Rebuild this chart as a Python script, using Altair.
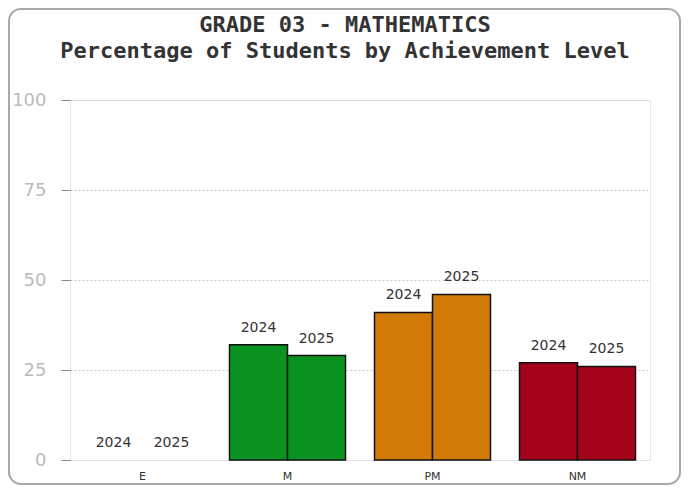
import altair as alt
import pandas as pd

levels = ["E", "M", "PM", "NM"]
years = ["2024", "2025"]
pct_2024 = [0, 32, 41, 27]
pct_2025 = [0, 29, 46, 26]
level_colors = ["#1f5fa8", "#0b9321", "#d27a05", "#a3041b"]
y_ticks = [0, 25, 50, 75, 100]
title_lines = ["GRADE 03 - MATHEMATICS", "Percentage of Students by Achievement Level"]

rows = []
for i, lv in enumerate(levels):
    rows.append({"level": lv, "year": years[0], "pct": pct_2024[i]})
    rows.append({"level": lv, "year": years[1], "pct": pct_2025[i]})
df = pd.DataFrame(rows)

x_enc = alt.X(
    "level:N",
    sort=levels,
    scale=alt.Scale(domain=levels, paddingInner=0.2, paddingOuter=0.1),
    axis=alt.Axis(
        title=None, labelAngle=0, ticks=False, domainColor="#e2e2e2",
        labelPadding=10, labelFontSize=11, labelColor="#333",
        labelFont="DejaVu Sans", grid=False,
    ),
)
xo_enc = alt.XOffset("year:N", scale=alt.Scale(domain=years, paddingInner=0, paddingOuter=0))
y_enc = alt.Y(
    "pct:Q",
    scale=alt.Scale(domain=[0, 100], nice=False),
    axis=alt.Axis(
        title=None, values=y_ticks, domain=False, tickSize=9, tickColor="#888",
        labelPadding=15, labelFontSize=18, labelColor="#bbbbbb",
        labelFont="DejaVu Sans", gridColor="#c4c4c4", gridDash=[2, 2],
    ),
)

border = alt.Chart(alt.Data(values=[{}])).mark_rect(
    fill="transparent", stroke="#a8a8a8", strokeWidth=2, cornerRadius=12
).encode(
    x=alt.value(-61), x2=alt.value(610), y=alt.value(-91), y2=alt.value(384)
)

bars = alt.Chart(df).transform_filter("datum.pct > 0").mark_bar(
    stroke="#111", strokeWidth=1.5
).encode(
    x=x_enc, xOffset=xo_enc, y=y_enc,
    color=alt.Color("level:N", scale=alt.Scale(domain=levels, range=level_colors), legend=None),
)

labels = alt.Chart(df).mark_text(
    dy=-13, baseline="alphabetic", fontSize=14, font="DejaVu Sans", color="#333"
).encode(
    x=x_enc, xOffset=xo_enc, y=y_enc, text="year:N"
)

chart = alt.layer(border, bars, labels).properties(
    width=580,
    height=360,
    autosize=alt.AutoSizeParams(type="none"),
    padding={"left": 62, "top": 92, "right": 32, "bottom": 26},
    title=alt.TitleParams(
        text=title_lines, font="DejaVu Sans Mono", fontSize=22, fontWeight="bold",
        color="#333", anchor="middle", offset=-55, lineHeight=25.7, dx=-15,
    ),
).configure_view(stroke="#e6e6e6")

chart.save("out.html", embed_options={"renderer": "svg", "actions": False})
